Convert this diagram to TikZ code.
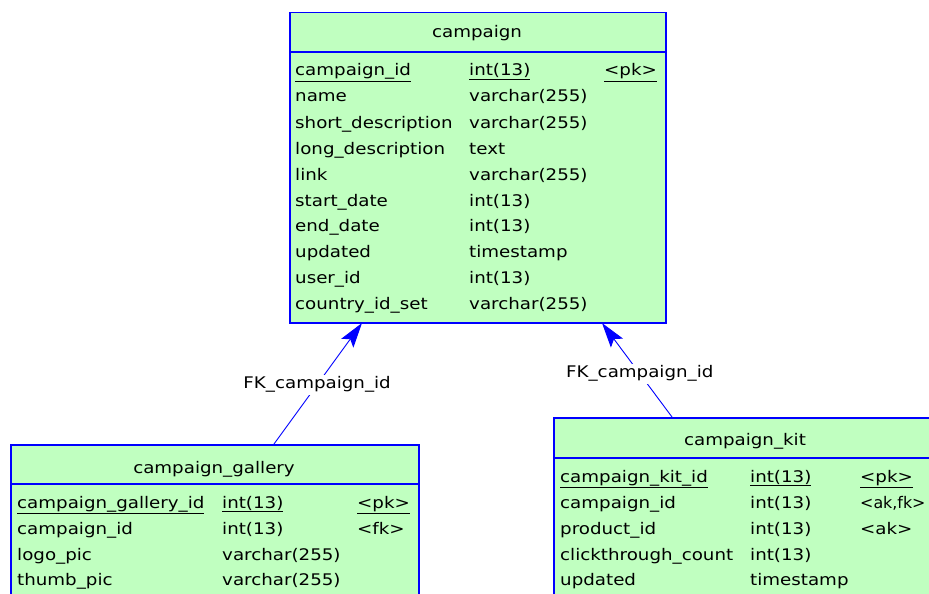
\documentclass[tikz,border=0pt]{standalone}
\usepackage{fontspec}
\setmainfont[FakeStretch=1.14]{DejaVu Sans}
\usetikzlibrary{arrows.meta}
\definecolor{tblfill}{RGB}{192,255,192}
\definecolor{tblline}{RGB}{0,0,255}
\begin{document}
\begin{tikzpicture}[x=1pt,y=-1pt,
  tbl/.style={draw=tblline, fill=tblfill, line width=1.5pt, rectangle, inner sep=0pt, anchor=north west},
  sepline/.style={draw=tblline, line width=1.5pt},
  cell/.style={anchor=base west, inner sep=0pt, font=\fontsize{16}{18}\selectfont},
  head/.style={anchor=base, inner sep=0pt, font=\fontsize{16}{18}\selectfont},
  fk/.style={draw=tblline, line width=0.9pt, -{Stealth[length=25pt,width=15pt,inset=5pt]}},
  fklabel/.style={fill=white, inner sep=2pt, font=\fontsize{16}{18}\selectfont}]
\clip (0,0) rectangle (929,594);
\fill[white] (0,0) rectangle (929,594);

% campaign
\node[tbl, minimum width=376pt, minimum height=310pt] (campaign) at (289,12) {};
\draw[sepline] (289,52) -- (665,52);
\node[head] (campaignh) at (477,38) {campaign};
\node[cell] (c1a) at (295,76) {\underline{campaign\_id}};
\node[cell] (c1b) at (469,76) {\underline{int(13)}};
\node[cell] (c1c) at (604,76) {\underline{<pk>}};
\node[cell] (c2a) at (295,102) {name};
\node[cell] (c2b) at (469,102) {varchar(255)};
\node[cell] (c3a) at (295,128) {short\_description};
\node[cell] (c3b) at (469,128) {varchar(255)};
\node[cell] (c4a) at (295,154) {long\_description};
\node[cell] (c4b) at (469,154) {text};
\node[cell] (c5a) at (295,180) {link};
\node[cell] (c5b) at (469,180) {varchar(255)};
\node[cell] (c6a) at (295,206) {start\_date};
\node[cell] (c6b) at (469,206) {int(13)};
\node[cell] (c7a) at (295,231) {end\_date};
\node[cell] (c7b) at (469,231) {int(13)};
\node[cell] (c8a) at (295,257) {updated};
\node[cell] (c8b) at (469,257) {timestamp};
\node[cell] (c9a) at (295,283) {user\_id};
\node[cell] (c9b) at (469,283) {int(13)};
\node[cell] (c10a) at (295,309) {country\_id\_set};
\node[cell] (c10b) at (469,309) {varchar(255)};

% campaign_gallery
\node[tbl, minimum width=408pt, minimum height=180pt] (gallery) at (10,444) {};
\draw[sepline] (10,484) -- (418,484);
\node[head] (galleryh) at (214,473) {campaign\_gallery};
\node[cell] (g1a) at (17,508) {\underline{campaign\_gallery\_id}};
\node[cell] (g1b) at (222,508) {\underline{int(13)}};
\node[cell] (g1c) at (357,508) {\underline{<pk>}};
\node[cell] (g2a) at (17,534) {campaign\_id};
\node[cell] (g2b) at (222,534) {int(13)};
\node[cell] (g2c) at (357,534) {<fk>};
\node[cell] (g3a) at (17,560) {logo\_pic};
\node[cell] (g3b) at (222,560) {varchar(255)};
\node[cell] (g4a) at (17,585) {thumb\_pic};
\node[cell] (g4b) at (222,585) {varchar(255)};

% campaign_kit
\node[tbl, minimum width=400pt, minimum height=200pt] (kit) at (553,417) {};
\draw[sepline] (553,458) -- (953,458);
\node[head] (kith) at (745,445) {campaign\_kit};
\node[cell] (k1a) at (560,482) {\underline{campaign\_kit\_id}};
\node[cell] (k1b) at (750,482) {\underline{int(13)}};
\node[cell] (k1c) at (860,482) {\underline{<pk>}};
\node[cell] (k2a) at (560,508) {campaign\_id};
\node[cell] (k2b) at (750,508) {int(13)};
\node[cell] (k2c) at (860,508) {\scalebox{0.87}[1]{<ak,fk>}};
\node[cell] (k3a) at (560,534) {product\_id};
\node[cell] (k3b) at (750,534) {int(13)};
\node[cell] (k3c) at (860,534) {<ak>};
\node[cell] (k4a) at (560,560) {clickthrough\_count};
\node[cell] (k4b) at (750,560) {int(13)};
\node[cell] (k5a) at (560,585) {updated};
\node[cell] (k5b) at (750,585) {timestamp};

% connectors
\coordinate (gtop) at (274,444);
\coordinate (cbl) at (362,323);
\coordinate (ktop) at (672,417);
\coordinate (cbr) at (602,323);
\draw[fk] (gtop) -- node[pos=0.49, fklabel] (fk1) {FK\_campaign\_id} (cbl);
\draw[fk] (ktop) -- node[pos=0.46, fklabel] (fk2) {FK\_campaign\_id} (cbr);
\end{tikzpicture}
\end{document}
